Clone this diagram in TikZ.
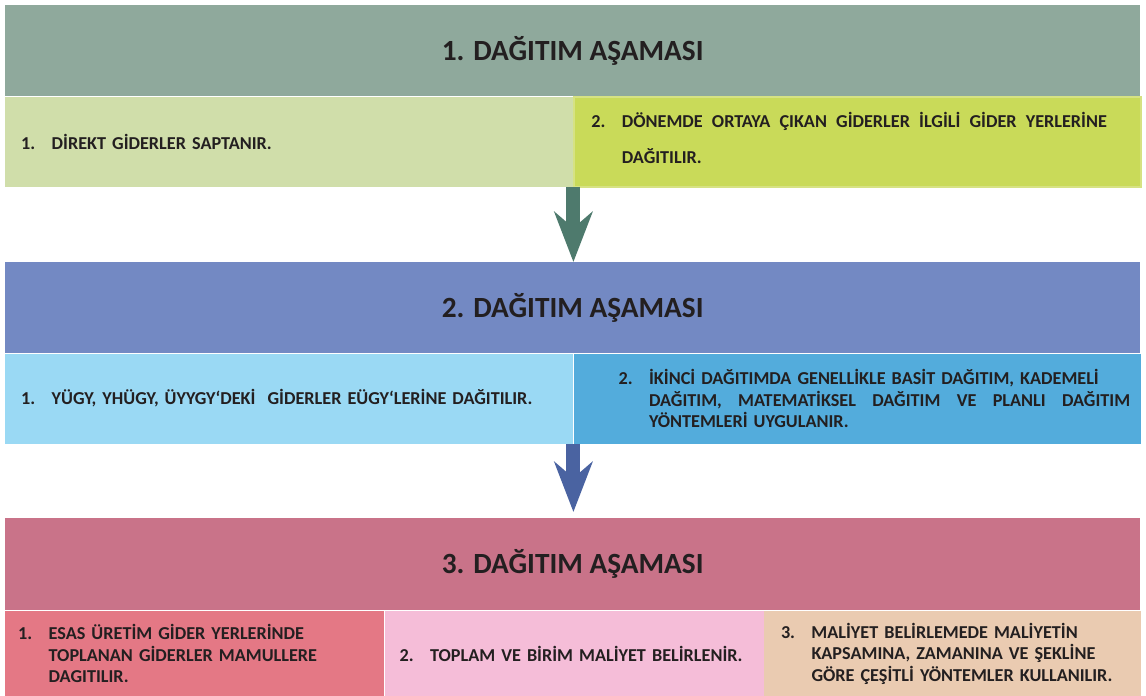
\documentclass[tikz,border=0pt]{standalone}
\usepackage{fontspec}
\setmainfont{Carlito}
\usepackage{tikz}
\usetikzlibrary{positioning,arrows.meta}

\definecolor{ink}{HTML}{231F20}
\definecolor{hdrA}{HTML}{8FA99C}
\definecolor{subAa}{HTML}{D0DEAA}
\definecolor{subAb}{HTML}{C9DA59}
\definecolor{subAbEdge}{HTML}{D6E283}
\definecolor{arrA}{HTML}{4E7A6D}
\definecolor{hdrB}{HTML}{7389C3}
\definecolor{subBa}{HTML}{9AD9F4}
\definecolor{subBb}{HTML}{53ACDC}
\definecolor{arrB}{HTML}{4A63A1}
\definecolor{hdrC}{HTML}{C97389}
\definecolor{subCa}{HTML}{E47885}
\definecolor{subCb}{HTML}{F5BDD8}
\definecolor{subCc}{HTML}{EACBB1}

% numbered text: left pad, right pad, number, text
\newcommand{\steptext}[4]{\leftskip=#1\rightskip=#2\noindent\hangindent=30.5pt\hangafter=1\makebox[30.5pt][l]{#3}#4\par}
% one justified line of given width (words split by \hfill)
\newcommand{\fullline}[2]{\makebox[#1][l]{#2}}

\begin{document}
\begin{tikzpicture}[x=1pt,y=1pt,
    stagebar/.style={minimum width=1135pt, minimum height=91pt, inner sep=0pt, anchor=north west,
        font=\fontsize{29.3}{35}\selectfont\bfseries, text=ink},
    substep/.style={minimum height=90pt, inner sep=0pt, text=ink,
        font=\fontsize{18.2}{21.5}\selectfont\bfseries},
    flow/.style={line width=14pt, -{Stealth[length=50pt,width=38pt,inset=16pt]}}]

    \useasboundingbox (0,0) rectangle (1146,-696);

    % Stage 1
    \node[stagebar, fill=hdrA] (st1) at (5,-5) {1. DAĞITIM AŞAMASI};
    \node[substep, fill=subAa, text width=568pt, anchor=north west] (s1a) at (st1.south west)
        {\steptext{16pt}{16pt}{1.}{DİREKT GİDERLER SAPTANIR.}};
    \node[substep, fill=subAb, draw=subAbEdge, line width=2pt, text width=567pt, right=0pt of s1a,
        font=\fontsize{18.2}{36}\selectfont\bfseries] (s1b)
        {\steptext{17pt}{35pt}{2.}{\fullline{485pt}{DÖNEMDE\hfill ORTAYA\hfill ÇIKAN\hfill GİDERLER\hfill İLGİLİ\hfill GİDER\hfill YERLERİNE}\newline DAĞITILIR.}\vspace{8pt}\hrule height 0pt};

    % Stage 2
    \node[stagebar, fill=hdrB] (st2) at (5,-262) {2. DAĞITIM AŞAMASI};
    \node[substep, fill=subBa, text width=568pt, anchor=north west] (s2a) at (st2.south west)
        {\steptext{16pt}{16pt}{1.}{YÜGY, YHÜGY, ÜYYGY‘DEKİ~ GİDERLER EÜGY‘LERİNE DAĞITILIR.}};
    \node[substep, fill=subBb, text width=567pt, right=0pt of s2a] (s2b)
        {\steptext{45pt}{10pt}{2.}{İKİNCİ DAĞITIMDA GENELLİKLE BASİT DAĞITIM, KADEMELİ\newline
        \fullline{481pt}{DAĞITIM,\hfill MATEMATİKSEL\hfill DAĞITIM\hfill VE\hfill PLANLI\hfill DAĞITIM}\newline YÖNTEMLERİ UYGULANIR.}};

    % Stage 3
    \node[stagebar, fill=hdrC, minimum height=92pt] (st3) at (5,-518) {3. DAĞITIM AŞAMASI};
    \node[substep, fill=subCa, minimum height=86pt, text width=379pt, anchor=north west] (s3a) at (st3.south west)
        {\steptext{13pt}{10pt}{1.}{ESAS ÜRETİM GİDER YERLERİNDE\newline TOPLANAN GİDERLER MAMULLERE\newline DAGITILIR.}};
    \node[substep, fill=subCb, minimum height=86pt, text width=379pt, right=0pt of s3a] (s3b)
        {\steptext{15pt}{10pt}{2.}{TOPLAM VE BİRİM MALİYET BELİRLENİR.}};
    \node[substep, fill=subCc, minimum height=86pt, text width=377pt, right=0pt of s3b] (s3c)
        {\steptext{17pt}{3pt}{3.}{MALİYET BELİRLEMEDE MALİYETİN\newline KAPSAMINA, ZAMANINA VE ŞEKLİNE\newline GÖRE ÇEŞİTLİ YÖNTEMLER KULLANILIR.}};

    % Arrows between stages
    \draw[flow, arrA] (s1a.south east) -- (s1a.south east |- st2.north);
    \draw[flow, arrB, shorten >=6pt] (s2a.south east) -- (s2a.south east |- st3.north);
\end{tikzpicture}
\end{document}
